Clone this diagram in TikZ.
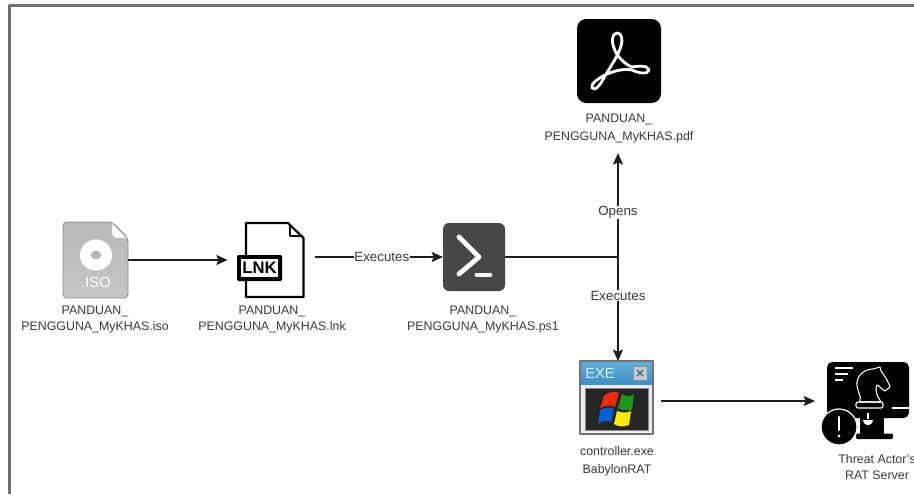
\documentclass[tikz,border=0pt]{standalone}
\usepackage{fontspec}
\setmainfont{Liberation Sans}
\usetikzlibrary{arrows.meta,calc}
\definecolor{txt}{HTML}{3A3A3A}
\definecolor{wire}{HTML}{1E1E1E}
\definecolor{frame}{HTML}{707070}
\definecolor{barhi}{HTML}{62AEDC}
\definecolor{barlo}{HTML}{3F8FC5}
\definecolor{closebtn}{HTML}{B9CDD9}
\tikzset{
  lbl/.style={font=\fontsize{9.3pt}{12pt}\selectfont,text=txt,inner sep=0pt,align=center},
  arr/.style={draw=wire,line width=0.95pt,-{Stealth[length=8.5pt,width=7.5pt,inset=1.5pt]}},
  wireline/.style={draw=wire,line width=0.95pt},
  edgelbl/.style={font=\fontsize{10pt}{12pt}\selectfont,text=txt,fill=white,inner sep=0.3pt},
  box/.style={inner sep=0pt,outer sep=0pt,minimum width=#1*0.75pt},
  hgt/.style={minimum height=#1*0.75pt},
}
\begin{document}
\begin{tikzpicture}[x=0.75pt,y=-0.75pt,line join=round]
\useasboundingbox (0,0) rectangle (914,494);
% frame
\fill[white] (0,0) rectangle (914,494);
\draw[frame,line width=1.9pt] (9.5,494) -- (9.5,5.5) -- (914,5.5);

% named icon anchors
\node[box=65,hgt=76] (iso) at (95.5,260) {};
\node[box=67,hgt=76] (lnk) at (270.5,260) {};
\node[box=62,hgt=68] (ps) at (474,257) {};
\node[box=84,hgt=84] (pdf) at (619,61) {};
\node[box=73,hgt=74] (exe) at (616.5,398) {};
\node[box=82,hgt=78] (srv) at (868,401) {};
\coordinate (j) at (618,257);

% ISO icon
\shade[top color=black!28,bottom color=black!22,draw=black!45,line width=0.7pt,rounded corners=3pt]
  (63,222) -- (112,222) -- (128,238) -- (128,298) -- (63,298) -- cycle;
\fill[white,draw=black!30,line width=0.3pt] (112,223) -- (127,238) -- (115,238) -- (112,235) -- cycle;
\fill[white] (96,255) ellipse (16 and 15.5);
\fill[black!28] (96,255) ellipse (5 and 4.5);
\node[font=\fontsize{11pt}{11pt}\selectfont,text=white,inner sep=0pt] (isotxt) at (96,282) {.ISO};

% LNK icon
\draw[black,line width=1.6pt] (246,255) -- (246,223) -- (288,223) -- (303.5,238) -- (303.5,297) -- (246,297) -- (246,280);
\draw[black,line width=1.5pt] (290,224) -- (290,236) -- (303,236);
\fill[black,rounded corners=1pt] (237,255) rectangle (282,281);
\fill[white] (241,259) rectangle (278,277);
\node[font=\bfseries\fontsize{12.5pt}{12.5pt}\selectfont,text=black,inner sep=0pt] (lnktxt) at (259.5,268) {LNK};

% PowerShell icon
\fill[black!72,rounded corners=4.5pt] (443,223) rectangle (505,291);
\draw[white,line width=3.6pt,line cap=round,line join=round] (459,237) -- (479,257) -- (459,274);
\draw[white,line width=3.6pt,line cap=round] (477,275) -- (490,275);

% PDF icon
\fill[black,rounded corners=7pt] (577,19) rectangle (661,103);
\draw[white,line width=2.1pt]
 (617,33) .. controls (612,33) and (611,42) .. (614,48)
 .. controls (616,55) and (624,64) .. (632,67)
 .. controls (638,66) and (648,65) .. (649,70)
 .. controls (648,75) and (638,73) .. (632,70)
 .. controls (622,68) and (612,72) .. (605,75)
 .. controls (599,78) and (590,84) .. (592,88)
 .. controls (595,92) and (601,84) .. (605,76)
 .. controls (611,66) and (619,54) .. (621,46)
 .. controls (623,40) and (622,33) .. (617,33) -- cycle;

% EXE icon
\fill[black!8,draw=black!55,line width=0.9pt] (580,361) rectangle (653,434);
\shade[top color=barhi,bottom color=barlo] (581,362) rectangle (652,384);
\fill[black!85] (585,388.5) rectangle (648.5,430);
\draw[black!45,line width=0.6pt] (585,388.5) rectangle (648.5,430);
\node[font=\fontsize{11pt}{11pt}\selectfont,text=white!85!cyan,inner sep=0pt] (exetxt) at (600,373.5) {EXE};
\fill[closebtn,draw=black!45,line width=0.5pt] (633,366) rectangle (647,380);
\draw[black!65,line width=1pt] (637,370) -- (643,376) (643,370) -- (637,376);
% Windows flag
\begin{scope}[shift={(0,-6)}]
\fill[red!65!orange!95!black] (604,402) .. controls (610,397) and (614,397) .. (619,399) -- (615,413) .. controls (611,411) and (606,411) .. (600,414) -- cycle;
\fill[green!55!black!90] (622,400) .. controls (627,403) and (632,403) .. (634,400) -- (632,416) .. controls (627,417) and (622,416) .. (618,414) -- cycle;
\fill[blue!55!cyan!85!black] (600,416) .. controls (606,413) and (610,413) .. (614,415) -- (611,428) .. controls (606,426) and (602,426) .. (598,430) -- cycle;
\fill[yellow!90!orange] (617,417) .. controls (622,419) and (627,419) .. (631,417) -- (629,431) .. controls (624,433) and (618,433) .. (614,430) -- cycle;
\end{scope}

% Server icon
\fill[black,rounded corners=4pt] (827,362) rectangle (909,418);
\fill[black] (860,416) rectangle (884,434);
\fill[black,rounded corners=1pt] (856,433.5) rectangle (893,439);
\draw[white,line width=1.2pt] (835,368) -- (853,368) (835,374) -- (848,374) (835,380) -- (843,380);
\draw[white,line width=1pt] (892,408) -- (909,408);
\draw[white,line width=0.8pt,line join=round]
 (860,402) .. controls (862,396) and (856,390) .. (857,382)
 .. controls (858,374) and (866,369) .. (873,369)
 -- (880,367) -- (881,371) .. controls (885,376) and (889,383) .. (890,387)
 -- (885,391) .. controls (882,390) and (880,386) .. (877,385)
 .. controls (874,391) and (878,397) .. (881,402) -- cycle;
\draw[white,line width=0.8pt,rounded corners=1.5pt] (856,402) rectangle (883,408);
\draw[white,line width=0.8pt] (868,413) -- (868,419);
\fill[white] (863,420) .. controls (864,427) and (872,427) .. (873,420) -- cycle;
\fill[black,draw=white,line width=0.9pt] (839,427) circle (18);
\draw[white,line width=1.6pt,line cap=round] (839,417) -- (839,430);
\fill[white] (839,436) circle (1.5);

% labels
\node[lbl] (isol) at (95,320) {PANDUAN\_\\PENGGUNA\_MyKHAS.iso};
\node[lbl] (lnkl) at (272,319.5) {PANDUAN\_\\PENGGUNA\_MyKHAS.lnk};
\node[lbl] (psl) at (483,320) {PANDUAN\_\\PENGGUNA\_MyKHAS.ps1};
\node[lbl] (pdfl) at (619,129) {PANDUAN\_\\[1.5pt]PENGGUNA\_MyKHAS.pdf};
\node[lbl] (exel) at (617,461) {controller.exe\\[1.5pt]BabylonRAT};
\node[lbl] (srvl) at (877,467) {Threat Actor's\\RAT Server};

% connectors
\draw[arr,shorten >=7pt] (iso.east) -- (lnk.west);
\draw[arr,shorten <=8pt] (lnk.east |- ps.west) -- node[edgelbl,pos=0.56] (e1) {Executes} (ps.west);
\draw[wireline] (ps.east) -- (j);
\draw[arr,shorten >=7pt] (j) -- node[edgelbl,pos=0.395] (e2) {Opens} (j |- pdfl.south);
\draw[arr] (j) -- node[edgelbl,pos=0.37] (e3) {Executes} (j |- exe.north);
\draw[arr,shorten <=6pt,shorten >=9pt] (exe.east |- srv.west) -- (srv.west);
\end{tikzpicture}
\end{document}
